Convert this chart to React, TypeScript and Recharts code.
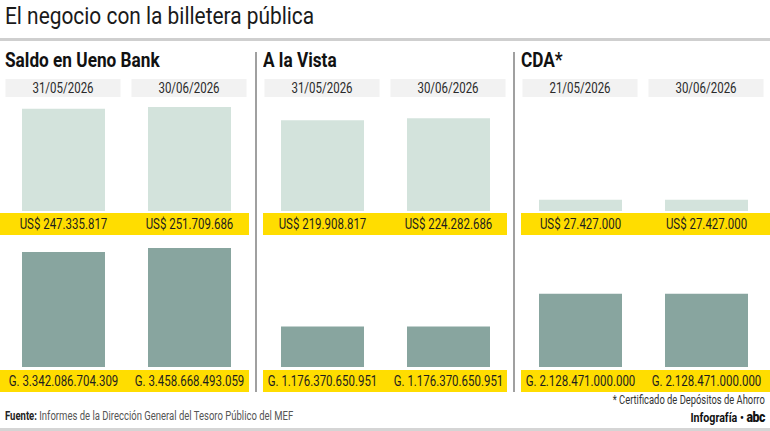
import { BarChart, Bar, XAxis, YAxis, LabelList } from 'recharts'

const panelTitles = ['Saldo en Ueno Bank', 'A la Vista', 'CDA*']
const panelDates = [
  ['31/05/2026', '30/06/2026'],
  ['31/05/2026', '30/06/2026'],
  ['21/05/2026', '30/06/2026'],
]
const usdValues = [
  [247335817, 251709686],
  [219908817, 224282686],
  [27427000, 27427000],
]
const gsValues = [
  [3342086704309, 3458668493059],
  [1176370650951, 1176370650951],
  [2128471000000, 2128471000000],
]

const FONT = "Roboto, 'Liberation Sans', sans-serif"
const SQ = 0.82 // horizontal squeeze to fake a condensed face
const YELLOW = '#ffdd00'
const LIGHT = '#d3e3dc'
const DARK = '#88a59f'

// layout per panel
const chartLeft = [0, 259, 516.5]
const bandLeft = [0, 263, 521]
const bandRight = [249, 507, 770]

const fmt = (v: number) => String(v).replace(/\B(?=(\d{3})+(?!\d))/g, '.')

// narrow text for svg
function NText({ x, y, size, fill, children }: any) {
  return (
    <g transform={`translate(${x} ${y}) scale(${SQ} 1)`}>
      <text x={0} y={0} dy="0.35em" textAnchor="middle" fontSize={size} fill={fill}>
        {children}
      </text>
    </g>
  )
}

// narrow text for html
function N({ children, origin = 'left', sq = SQ, style }: any) {
  return (
    <span style={{ display: 'inline-block', whiteSpace: 'nowrap', transform: `scaleX(${sq})`, transformOrigin: origin, ...style }}>
      {children}
    </span>
  )
}

function ValueLabel(prefix: string, dy: number) {
  return (props: any) => {
    const { x, y, width, height, value } = props
    return (
      <NText x={x + width / 2} y={y + height + dy} size={14} fill="#1e1e1e">
        {prefix + fmt(value)}
      </NText>
    )
  }
}

function DateTick(props: any) {
  const { x, payload } = props
  return (
    <g>
      <rect x={x - 57.5} y={9} width={115} height={18} fill="#f2f2f2" />
      <NText x={x} y={18} size={14} fill="#2a2a2a">
        {payload.value}
      </NText>
    </g>
  )
}

function Panel({ i }: { i: number }) {
  const top = panelDates[i].map((d, k) => ({ date: d, value: usdValues[i][k] }))
  const bottom = panelDates[i].map((d, k) => ({ date: d, value: gsValues[i][k] }))
  return (
    <>
      <div style={{ position: 'absolute', left: bandLeft[i], width: bandRight[i] - bandLeft[i], top: 213, height: 22, background: YELLOW }} />
      <div style={{ position: 'absolute', left: bandLeft[i], width: bandRight[i] - bandLeft[i], top: 370, height: 22, background: YELLOW }} />
      <div style={{ position: 'absolute', left: i === 0 ? 5 : bandLeft[i], top: 47, fontSize: 21, fontWeight: 700, color: '#111', lineHeight: '26px' }}>
        <N>{panelTitles[i]}</N>
      </div>
      <div style={{ position: 'absolute', left: chartLeft[i], top: 70 }}>
        <BarChart width={252} height={170} data={top} margin={{ top: 7.4, right: 0, left: 0, bottom: 29 }}>
          <XAxis dataKey="date" orientation="top" height={20} axisLine={false} tickLine={false} tick={<DateTick />} interval={0} />
          <YAxis hide domain={[0, 275000000]} />
          <Bar dataKey="value" fill={LIGHT} barSize={83} isAnimationActive={false}>
            <LabelList dataKey="value" content={ValueLabel('US$ ', 13)} />
          </Bar>
        </BarChart>
      </div>
      <div style={{ position: 'absolute', left: chartLeft[i], top: 236 }}>
        <BarChart width={252} height={160} data={bottom} margin={{ top: 7.1, right: 0, left: 0, bottom: 29 }}>
          <XAxis dataKey="date" hide />
          <YAxis hide domain={[0, 3600000000000]} />
          <Bar dataKey="value" fill={DARK} barSize={83} isAnimationActive={false}>
            <LabelList dataKey="value" content={ValueLabel('G. ', 14)} />
          </Bar>
        </BarChart>
      </div>
    </>
  )
}

export default function App() {
  return (
    <div style={{ position: 'absolute', left: 0, top: 0, width: 770, height: 431, background: '#fff', fontFamily: FONT, overflow: 'hidden' }}>
      <div style={{ position: 'absolute', left: 5, top: 2, fontSize: 24, color: '#1a1a1a', lineHeight: '28px' }}>
        <N sq={0.87}>El negocio con la billetera pública</N>
      </div>
      <div style={{ position: 'absolute', left: 0, top: 38, width: 770, height: 3, background: '#cfcfcf' }} />
      <div style={{ position: 'absolute', left: 254.5, top: 52, width: 2, height: 340, background: '#a0a0a0' }} />
      <div style={{ position: 'absolute', left: 512.5, top: 52, width: 2, height: 340, background: '#a0a0a0' }} />
      {[0, 1, 2].map((i) => (
        <Panel key={i} i={i} />
      ))}
      <div style={{ position: 'absolute', right: 5, top: 392, fontSize: 12.5, color: '#333', lineHeight: '16px' }}>
        <N origin="right" sq={0.75}>* Certificado de Depósitos de Ahorro</N>
      </div>
      <div style={{ position: 'absolute', left: 5, top: 408, fontSize: 12.5, color: '#555', lineHeight: '16px' }}>
        <N sq={0.76}>
          <b style={{ color: '#222' }}>Fuente:</b> Informes de la Dirección General del Tesoro Público del MEF
        </N>
      </div>
      <div style={{ position: 'absolute', right: 5, top: 409, fontSize: 13, color: '#111', lineHeight: '16px', fontWeight: 700 }}>
        <N origin="right">
          Infografía • <span style={{ fontWeight: 900, fontSize: 15, letterSpacing: -0.5 }}>abc</span>
        </N>
      </div>
      <div style={{ position: 'absolute', left: 0, top: 428, width: 770, height: 3, background: '#d5d5d5' }} />
    </div>
  )
}
